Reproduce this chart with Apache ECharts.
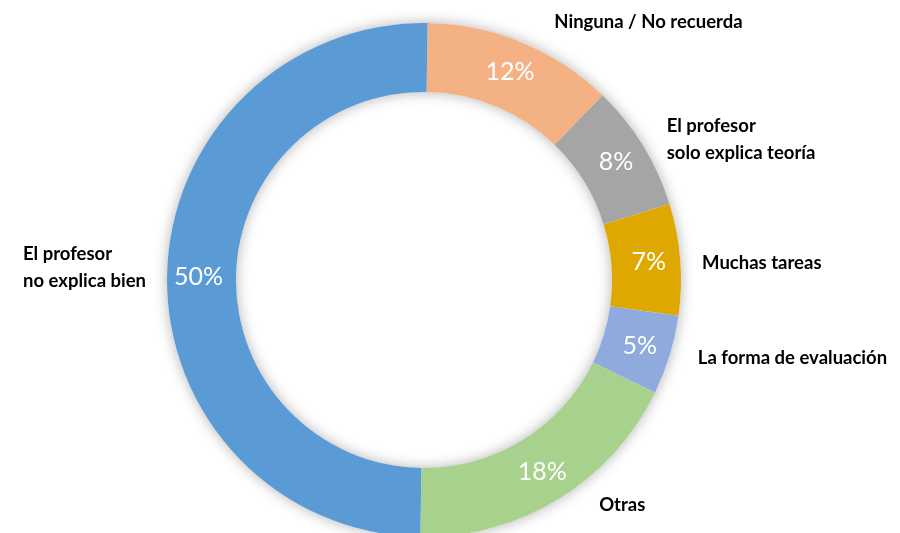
<!DOCTYPE html>
<html>
<head>
<meta charset="utf-8">
<script src="https://cdn.jsdelivr.net/npm/echarts@6/dist/echarts.min.js"></script>
<style>
  html, body { margin: 0; padding: 0; background: #fff; }
  #chart { width: 900px; height: 533px; }
</style>
</head>
<body>
<div id="chart"></div>
<script>
// categorias y porcentajes (en el orden de las agujas del reloj desde arriba)
var categories = [
  'Ninguna / No recuerda',
  'El profesor\nsolo explica teoría',
  'Muchas tareas',
  'La forma de evaluación',
  'Otras',
  'El profesor\nno explica bien'
];
var values = [12, 8, 7, 5, 18, 50];
var colors = ['#F4B183', '#A5A5A5', '#DFA800', '#8FAADC', '#A9D18E', '#5B9BD5'];

var FONT = 'Lato, "Open Sans", sans-serif';
var CENTER = [424, 280];
var RADIUS = [188, 257];
// pequeños ajustes de las etiquetas exteriores [dx, dy]
var labelNudge = [[19, 0], [0, 6], [-5, 5], [2, -4], [24, -13], [6, -9]];

var pieData = categories.map(function (name, i) {
  return { name: name, value: values[i], itemStyle: { color: colors[i] } };
});

var chart = echarts.init(document.getElementById('chart'), null, { renderer: 'canvas' });

var option = {
  backgroundColor: '#ffffff',
  animation: false,
  series: [
    // anillo de fondo solo para la sombra
    {
      type: 'pie',
      silent: true,
      center: CENTER,
      radius: RADIUS,
      label: { show: false },
      labelLine: { show: false },
      itemStyle: {
        color: '#ffffff',
        shadowBlur: 14,
        shadowColor: 'rgba(0,0,0,0.3)'
      },
      data: [{ value: 1 }]
    },
    // sectores con el porcentaje dentro
    {
      type: 'pie',
      center: CENTER,
      radius: RADIUS,
      startAngle: 89.2,
      clockwise: true,
      avoidLabelOverlap: false,
      label: {
        show: true,
        position: 'inside',
        formatter: '{c}%',
        color: '#ffffff',
        fontFamily: FONT,
        fontSize: 25
      },
      labelLine: { show: false },
      data: pieData
    },
    // nombres fuera del anillo
    {
      type: 'pie',
      silent: true,
      center: CENTER,
      radius: RADIUS,
      startAngle: 89.2,
      clockwise: true,
      avoidLabelOverlap: false,
      itemStyle: { color: 'rgba(0,0,0,0)' },
      label: {
        show: true,
        position: 'outside',
        formatter: function (p) {
          return p.name.split('\n').map(function (s) { return '{a|' + s + '}'; }).join('\n');
        },
        rich: {
          a: {
            align: 'left',
            color: '#000000',
            fontFamily: FONT,
            fontWeight: 'bold',
            fontSize: 18.5,
            lineHeight: 27
          }
        }
      },
      labelLayout: function (params) {
        var n = labelNudge[params.dataIndex];
        return { dx: n[0], dy: n[1] };
      },
      labelLine: { show: false, length: 22, length2: 0 },
      data: categories.map(function (name, i) { return { name: name, value: values[i] }; })
    }
  ]
};

chart.setOption(option);
</script>
</body>
</html>
